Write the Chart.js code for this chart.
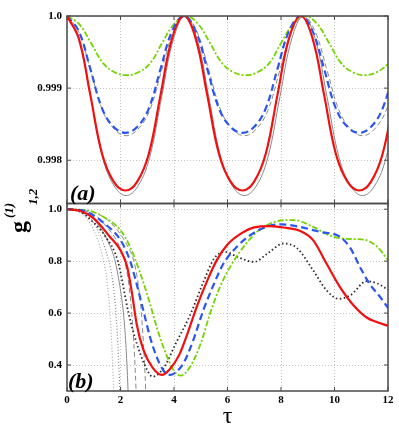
<!DOCTYPE html>
<html>
<head>
<meta charset="utf-8">
<script src="https://cdn.jsdelivr.net/npm/chart.js@4/dist/chart.umd.min.js"></script>
<style>
  html, body { margin: 0; padding: 0; background: #fff; }
  #wrap { width: 399px; height: 431px; }
</style>
</head>
<body>
<div id="wrap"><canvas id="chart" width="399" height="431"></canvas></div>
<script>
// ---- panel (a): fine oscillations near 1 ----
const tauRedTop = [0, 0.44, 0.87, 1.31, 1.75, 2.19, 2.62, 3.06, 3.5, 3.93, 4.37, 4.81, 5.24, 5.68, 6.12, 6.56, 6.99, 7.43, 7.87, 8.3, 8.74, 9.18, 9.61, 10.05, 10.49, 10.93, 11.36, 11.8, 12.24];
const gRedTop = [1.0, 0.99969, 0.99891, 0.99809, 0.99770, 0.99758, 0.99770, 0.99809, 0.99891, 0.99969,
                 1.0, 0.99969, 0.99891, 0.99809, 0.99770, 0.99758, 0.99770, 0.99809, 0.99891, 0.99969,
                 1.0, 0.99969, 0.99891, 0.99809, 0.99770, 0.99758, 0.99770, 0.99809, 0.99891];
const gBlueTop = [1.0, 0.99979, 0.99927, 0.99872, 0.99846, 0.99838, 0.99846, 0.99872, 0.99927, 0.99979,
                  1.0, 0.99979, 0.99927, 0.99872, 0.99846, 0.99838, 0.99846, 0.99872, 0.99927, 0.99979,
                  1.0, 0.99979, 0.99927, 0.99872, 0.99846, 0.99838, 0.99846, 0.99872, 0.99927];
const tauGrayTop = [0, 0.44, 0.88, 1.33, 1.77, 2.21, 2.65, 3.09, 3.54, 3.98, 4.42, 4.86, 5.3, 5.75, 6.19, 6.63, 7.07, 7.51, 7.96, 8.4, 8.84, 9.28, 9.72, 10.17, 10.61, 11.05, 11.49, 11.93, 12.38];
const gGraySolidTop = [1.0, 0.99968, 0.99888, 0.99804, 0.99764, 0.99751, 0.99764, 0.99804, 0.99888, 0.99968,
                       1.0, 0.99968, 0.99888, 0.99804, 0.99764, 0.99751, 0.99764, 0.99804, 0.99888, 0.99968,
                       1.0, 0.99968, 0.99888, 0.99804, 0.99764, 0.99751, 0.99764, 0.99804, 0.99888];
const gGrayDashTop = [1.0, 0.99978, 0.99925, 0.99869, 0.99843, 0.99834, 0.99843, 0.99869, 0.99925, 0.99978,
                      1.0, 0.99978, 0.99925, 0.99869, 0.99843, 0.99834, 0.99843, 0.99869, 0.99925, 0.99978,
                      1.0, 0.99978, 0.99925, 0.99869, 0.99843, 0.99834, 0.99843, 0.99869, 0.99925];
const tauGreenTop = [0, 0.45, 0.89, 1.34, 1.78, 2.23, 2.67, 3.12, 3.56, 4.01, 4.45, 4.9, 5.34, 5.79, 6.23, 6.68, 7.12, 7.57, 8.01, 8.46, 8.9, 9.35, 9.79, 10.24, 10.68, 11.13, 11.57, 12.02, 12.46];
const gGreenTop = [1.0, 0.99989, 0.99963, 0.99935, 0.99922, 0.99918, 0.99922, 0.99935, 0.99963, 0.99989,
                   1.0, 0.99989, 0.99963, 0.99935, 0.99922, 0.99918, 0.99922, 0.99935, 0.99963, 0.99989,
                   1.0, 0.99989, 0.99963, 0.99935, 0.99922, 0.99918, 0.99922, 0.99935, 0.99963];

// ---- panel (b) ----
const tauRedBot = [0, 0.5, 1.0, 1.6, 2.0, 2.25, 2.45, 2.6, 2.85, 3.2, 3.55, 3.85, 4.2, 4.5, 4.85, 5.25, 5.6, 6.0, 6.5, 7.0, 7.6, 8.2, 8.7, 9.2, 9.7, 10.2, 10.7, 11.2, 11.6, 12];
const gRedBot = [1.0, 0.993, 0.965, 0.894, 0.842, 0.778, 0.663, 0.56, 0.46, 0.39, 0.362, 0.385, 0.44, 0.52, 0.624, 0.727, 0.804, 0.864, 0.906, 0.93, 0.935, 0.928, 0.917, 0.881, 0.791, 0.701, 0.631, 0.583, 0.565, 0.551];
const tauBlueBot = [0, 0.6, 1.0, 1.4, 2.0, 2.35, 2.6, 2.85, 3.1, 3.35, 3.6, 3.85, 4.1, 4.35, 4.7, 5.1, 5.5, 5.85, 6.35, 6.85, 7.45, 8.0, 8.7, 9.45, 10.2, 10.6, 10.95, 11.3, 11.7, 12];
const gBlueBot = [1.0, 0.995, 0.975, 0.945, 0.881, 0.804, 0.714, 0.612, 0.509, 0.432, 0.38, 0.362, 0.375, 0.406, 0.49, 0.612, 0.714, 0.791, 0.855, 0.9, 0.932, 0.942, 0.932, 0.913, 0.894, 0.849, 0.778, 0.714, 0.663, 0.62];
const tauGreenBot = [0, 0.8, 1.37, 2.0, 2.36, 2.74, 3.1, 3.35, 3.6, 3.98, 4.25, 4.6, 5.0, 5.35, 5.72, 6.1, 6.6, 7.1, 7.6, 8.2, 8.5, 9.2, 9.8, 10.3, 10.8, 11.1, 11.6, 12];
const gGreenBot = [1.0, 0.995, 0.97, 0.919, 0.855, 0.753, 0.637, 0.547, 0.47, 0.381, 0.359, 0.393, 0.483, 0.599, 0.701, 0.778, 0.855, 0.913, 0.945, 0.958, 0.958, 0.932, 0.9, 0.887, 0.885, 0.883, 0.855, 0.804];
const tauBlackBot = [0, 0.4, 0.9, 1.4, 1.9, 2.3, 2.5, 2.75, 3.0, 3.2, 3.6, 4.1, 4.6, 5.1, 5.5, 5.9, 6.4, 7.0, 7.5, 8.1, 8.6, 9.2, 9.7, 10.15, 10.6, 11.2, 11.6, 12];
const gBlackBot = [1.0, 0.995, 0.958, 0.9, 0.8, 0.6, 0.52, 0.44, 0.38, 0.355, 0.387, 0.49, 0.592, 0.72, 0.81, 0.836, 0.815, 0.797, 0.83, 0.868, 0.85, 0.765, 0.688, 0.655, 0.669, 0.723, 0.714, 0.69];
// thin gray short-time curves
const tauGrayDot1 = [0, 0.6, 1.0, 1.3, 1.5, 1.62, 1.7, 1.75];
const gGrayDot1 = [1.0, 0.98, 0.92, 0.83, 0.72, 0.58, 0.42, 0.28];
const tauGrayDot2 = [0, 0.7, 1.1, 1.45, 1.7, 1.83, 1.92, 1.98];
const gGrayDot2 = [1.0, 0.98, 0.93, 0.84, 0.73, 0.6, 0.44, 0.28];
const tauGraySolidBot = [0, 0.8, 1.3, 1.6, 1.8, 1.95, 2.11, 2.2, 2.26, 2.3];
const gGraySolidBot = [1.0, 0.98, 0.92, 0.86, 0.8, 0.72, 0.6, 0.48, 0.36, 0.25];
const tauGrayDash1 = [0, 1.0, 1.5, 1.9, 2.15, 2.3, 2.42, 2.5, 2.56, 2.6];
const gGrayDash1 = [1.0, 0.98, 0.93, 0.87, 0.8, 0.72, 0.6, 0.48, 0.36, 0.25];
const tauGrayDash2 = [0, 1.2, 1.8, 2.2, 2.5, 2.65, 2.78, 2.86, 2.92, 2.96];
const gGrayDash2 = [1.0, 0.98, 0.93, 0.87, 0.8, 0.72, 0.6, 0.48, 0.36, 0.25];

// ---- axes ----
const topTicks = [0.998, 0.999, 1.0];
const topTickLabels = ['0.998', '0.999', '1.0'];
const botTicks = [0.4, 0.6, 0.8, 1.0];
const botTickLabels = ['0.4', '0.6', '0.8', '1.0'];

const serif = "'Liberation Serif', 'Times New Roman', serif";
const RED = '#f01010', BLUE = '#2b55f0', GREEN = '#74d400', BLACK = '#2a2a2a', GRAY = '#8a8a8a';

function pts(xs, ys) { return xs.map((x, i) => ({ x: x, y: ys[i] })); }

// top panel: smooth bezier through evenly spaced samples; bottom: monotone (no overshoot)
function line(xs, ys, axis, color, width, dash) {
    const ds = {
        data: pts(xs, ys), yAxisID: axis, borderColor: color, borderWidth: width,
        borderDash: dash || [], pointRadius: 0, fill: false
    };
    if (axis === 'yTop') ds.tension = 0.4;
    else ds.cubicInterpolationMode = 'monotone';
    return ds;
}

const datasets = [
    // colored curves first so they sit on top
    line(tauRedTop, gRedTop, 'yTop', RED, 2.2),
    line(tauRedTop, gBlueTop, 'yTop', BLUE, 2.2, [7, 4]),
    line(tauGreenTop, gGreenTop, 'yTop', GREEN, 1.8, [6, 2, 2, 2]),
    line(tauRedBot, gRedBot, 'yBot', RED, 2.2),
    line(tauBlueBot, gBlueBot, 'yBot', BLUE, 2.2, [7, 4]),
    line(tauGreenBot, gGreenBot, 'yBot', GREEN, 1.8, [6, 2, 2, 2]),
    line(tauBlackBot, gBlackBot, 'yBot', BLACK, 1.8, [1.5, 2.5]),
    // gray references underneath
    line(tauGrayTop, gGraySolidTop, 'yTop', GRAY, 1),
    line(tauGrayTop, gGrayDashTop, 'yTop', GRAY, 1, [5, 3]),
    line(tauGrayDot1, gGrayDot1, 'yBot', '#aaaaaa', 1.2, [1, 2]),
    line(tauGrayDot2, gGrayDot2, 'yBot', '#888888', 1.2, [1, 2]),
    line(tauGraySolidBot, gGraySolidBot, 'yBot', GRAY, 1),
    line(tauGrayDash1, gGrayDash1, 'yBot', GRAY, 1, [5, 3]),
    line(tauGrayDash2, gGrayDash2, 'yBot', GRAY, 1, [5, 3])
];

const tickFont = { family: serif, size: 11, weight: 'bold' };

function yScale(min, max, ticks, labels) {
    return {
        type: 'linear', position: 'left', stack: 'panels', stackWeight: 1,
        min: min, max: max,
        afterBuildTicks: s => { s.ticks = ticks.map(v => ({ value: v })); },
        afterFit: s => { s.width = 67; },
        ticks: { callback: (v, i) => labels[i], font: tickFont, color: '#000', padding: 5 },
        grid: { color: '#c4c4c4', drawTicks: false },
        border: { display: false, dash: [1, 2] }
    };
}

// frames around both panels, with small inward ticks
const panelFrames = {
    id: 'panelFrames',
    afterDatasetsDraw(chart) {
        const { ctx, chartArea, scales } = chart;
        const xs = scales.x;
        ctx.save();
        ctx.strokeStyle = '#4a4a4a';
        [[scales.yTop, topTicks], [scales.yBot, botTicks]].forEach(([s, tk]) => {
            ctx.lineWidth = 1.5;
            ctx.strokeRect(chartArea.left, s.top, chartArea.right - chartArea.left, s.bottom - s.top);
            ctx.lineWidth = 1;
            ctx.beginPath();
            xs.ticks.forEach(t => {
                const px = xs.getPixelForValue(t.value);
                ctx.moveTo(px, s.top); ctx.lineTo(px, s.top + 4);
                ctx.moveTo(px, s.bottom); ctx.lineTo(px, s.bottom - 4);
            });
            tk.forEach(v => {
                const py = s.getPixelForValue(v);
                ctx.moveTo(chartArea.left, py); ctx.lineTo(chartArea.left + 4, py);
                ctx.moveTo(chartArea.right, py); ctx.lineTo(chartArea.right - 4, py);
            });
            ctx.stroke();
        });
        ctx.restore();
    },
    afterDraw(chart) {
        const { ctx, chartArea, scales } = chart;
        ctx.save();
        ctx.fillStyle = '#000';
        ctx.textBaseline = 'alphabetic';
        ctx.font = 'bold italic 22px ' + serif;
        ctx.fillText('(a)', chartArea.left + 3, scales.yTop.bottom - 4);
        ctx.fillText('(b)', chartArea.left + 1, scales.yBot.bottom - 3);

        // rotated y title: g^(1)_{1,2}
        ctx.translate(26, 233);
        ctx.rotate(-Math.PI / 2);
        ctx.font = 'bold 24px ' + serif;
        ctx.fillText('g', 0, 0);
        ctx.font = 'bold italic 13px ' + serif;
        ctx.fillText('(1)', 15, -13);
        ctx.fillText('1,2', 28, 11);
        ctx.restore();
    }
};

new Chart(document.getElementById('chart'), {
    type: 'line',
    data: { datasets: datasets },
    options: {
        responsive: false,
        animation: false,
        layout: { padding: { top: 16, right: 11, left: 0, bottom: 0 } },
        plugins: { legend: { display: false }, tooltip: { enabled: false } },
        scales: {
            x: {
                type: 'linear', min: 0, max: 12,
                ticks: { stepSize: 2, font: tickFont, color: '#000', padding: 3, maxRotation: 0 },
                grid: { color: '#c4c4c4', drawTicks: false },
                border: { display: false, dash: [1, 2] },
                title: { display: true, text: 'τ', font: { family: serif, size: 24 }, color: '#000', padding: { top: 0, bottom: 0 } },
                afterFit: s => { s.height = 40; }
            },
            // the stack places the later scale on top
            yBot: yScale(0.3, 1.022, botTicks, botTickLabels),
            yTop: yScale(0.9974, 1.0, topTicks, topTickLabels)
        }
    },
    plugins: [panelFrames]
});
</script>
</body>
</html>
